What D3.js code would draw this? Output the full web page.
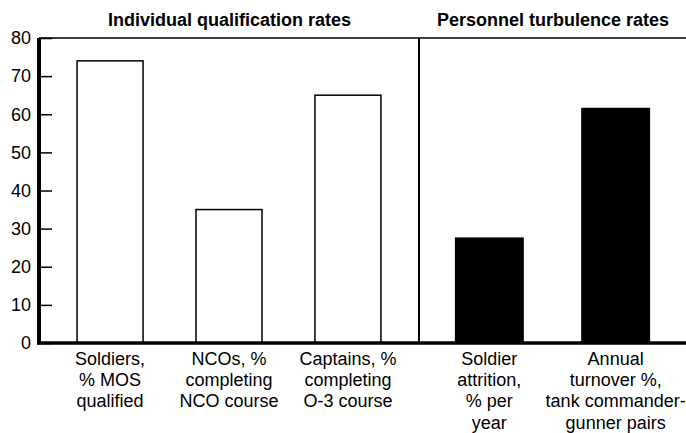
<!DOCTYPE html>
<html>
<head>
<meta charset="utf-8">
<script src="https://cdn.jsdelivr.net/npm/d3@7"></script>
<style>
    body { margin: 0; background: #fff; }
    svg { display: block; font-family: "Liberation Sans", Arial, Helvetica, sans-serif; }
</style>
</head>
<body>
<svg id="chart" width="686" height="433"></svg>
<script>
// data
const qualCategories = ['soldiers', 'ncos', 'captains'];
const qualLabels = [
    ['Soldiers,', '% MOS', 'qualified'],
    ['NCOs, %', 'completing', 'NCO course'],
    ['Captains, %', 'completing', 'O-3 course']
];
const qualValues = [74, 35, 65];

const turbCategories = ['attrition', 'turnover'];
const turbLabels = [
    ['Soldier', 'attrition,', '% per', 'year'],
    ['Annual', 'turnover %,', 'tank commander-', 'gunner pairs']
];
const turbValues = [27.5, 61.5];

const yTicks = [0, 10, 20, 30, 40, 50, 60, 70, 80];
const panelTitles = ['Individual qualification rates', 'Personnel turbulence rates'];

const margin = { top: 38, left: 39, bottom: 90, right: 0 };
const width = 686;
const height = 433;
const dividerX = 419;
const lineGap = 21.2;

const svg = d3.select('#chart');

const y = d3.scaleLinear()
    .domain([0, 80])
    .range([height - margin.bottom, margin.top]);

const xQual = d3.scaleBand()
    .domain(qualCategories)
    .range([margin.left, dividerX])
    .paddingInner(0.445)
    .paddingOuter(0.32);

const xTurb = d3.scaleBand()
    .domain(turbCategories)
    .range([dividerX, width])
    .paddingInner(0.466)
    .paddingOuter(0.29);

// y axis, ticks point inward
const yAxis = d3.axisLeft(y)
    .tickValues(yTicks)
    .tickSizeInner(-13)
    .tickSizeOuter(0)
    .tickPadding(8);

const yAxisG = svg.append('g')
    .attr('transform', `translate(${margin.left},0)`)
    .call(yAxis);
yAxisG.select('.domain').remove();
yAxisG.selectAll('line').attr('stroke', '#000').attr('stroke-width', 1.5);
yAxisG.selectAll('text')
    .attr('fill', '#000')
    .style('font-size', '18px');

// bars
function drawBars(scale, cats, values, fill) {
    svg.append('g')
        .selectAll('rect')
        .data(cats)
        .join('rect')
        .attr('x', d => scale(d))
        .attr('width', scale.bandwidth())
        .attr('y', (d, i) => y(values[i]))
        .attr('height', (d, i) => y(0) - y(values[i]))
        .attr('fill', fill)
        .attr('stroke', '#000')
        .attr('stroke-width', 1.5);
}

drawBars(xQual, qualCategories, qualValues, '#fff');
drawBars(xTurb, turbCategories, turbValues, '#000');

// frame
svg.append('line')
    .attr('x1', margin.left).attr('x2', width)
    .attr('y1', y(80)).attr('y2', y(80))
    .attr('stroke', '#000').attr('stroke-width', 1.5);

svg.append('line')
    .attr('x1', dividerX).attr('x2', dividerX)
    .attr('y1', y(80)).attr('y2', y(0))
    .attr('stroke', '#000').attr('stroke-width', 2);

svg.append('line')
    .attr('x1', margin.left - 2).attr('x2', width)
    .attr('y1', y(0)).attr('y2', y(0))
    .attr('stroke', '#000').attr('stroke-width', 3.5);

svg.append('line')
    .attr('x1', margin.left).attr('x2', margin.left)
    .attr('y1', y(80)).attr('y2', y(0) + 1.5)
    .attr('stroke', '#000').attr('stroke-width', 4);

// category labels
function drawLabels(scale, cats, labels) {
    const g = svg.append('g')
        .selectAll('text')
        .data(cats)
        .join('text')
        .attr('text-anchor', 'middle')
        .attr('fill', '#000')
        .style('font-size', '18px')
        .attr('x', d => scale(d) + scale.bandwidth() / 2)
        .attr('y', y(0) + 22);

    g.selectAll('tspan')
        .data((d, i) => labels[i])
        .join('tspan')
        .attr('x', function () { return d3.select(this.parentNode).attr('x'); })
        .attr('dy', (d, i) => i === 0 ? 0 : lineGap)
        .text(d => d);
}

drawLabels(xQual, qualCategories, qualLabels);
drawLabels(xTurb, turbCategories, turbLabels);

// panel titles
svg.append('g')
    .selectAll('text')
    .data(panelTitles)
    .join('text')
    .attr('x', (d, i) => i === 0 ? 229.5 : 553)
    .attr('y', 26)
    .attr('text-anchor', 'middle')
    .attr('fill', '#000')
    .style('font-size', '18px')
    .style('font-weight', 'bold')
    .text(d => d);
</script>
</body>
</html>
